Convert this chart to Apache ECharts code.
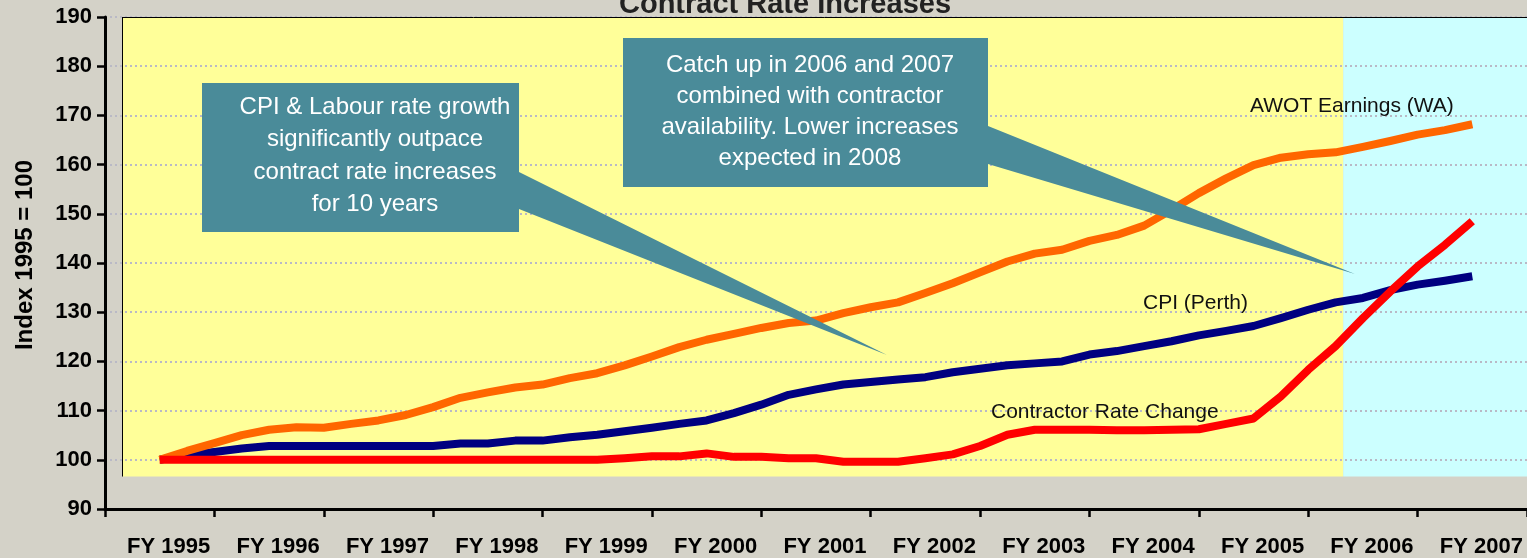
<!DOCTYPE html>
<html>
<head>
<meta charset="utf-8">
<script src="https://cdn.jsdelivr.net/npm/echarts@6/dist/echarts.min.js"></script>
<style>
  html, body { margin: 0; padding: 0; background: #d4d2c8; }
  #chart { width: 1527px; height: 558px; }
</style>
</head>
<body>
<div id="chart"></div>
<script>
// Financial years on the category axis
const years = ['FY 1995', 'FY 1996', 'FY 1997', 'FY 1998', 'FY 1999', 'FY 2000', 'FY 2001',
               'FY 2002', 'FY 2003', 'FY 2004', 'FY 2005', 'FY 2006', 'FY 2007'];

// Quarterly index values (1995 = 100), FY 1995 through FY 2007
const awot = [100, 101.8, 103.4, 105.0, 106.1, 106.6, 106.5, 107.3, 108.0, 109.1, 110.7, 112.6,
              113.7, 114.7, 115.3, 116.6, 117.6, 119.2, 121.0, 122.9, 124.4, 125.6, 126.8, 127.8,
              128.3, 129.8, 131.0, 132.0, 133.9, 135.9, 138.1, 140.3, 141.9, 142.7, 144.5, 145.7,
              147.6, 150.8, 154.2, 157.2, 159.9, 161.4, 162.1, 162.5, 163.6, 164.8, 166.1, 167.0, 168.2];
const cpi = [100, 101.0, 101.6, 102.3, 102.8, 102.8, 102.8, 102.8, 102.8, 102.8, 102.8, 103.3,
             103.3, 103.9, 103.9, 104.6, 105.1, 105.8, 106.5, 107.3, 108.0, 109.5, 111.2, 113.2,
             114.3, 115.3, 115.8, 116.3, 116.8, 117.8, 118.5, 119.2, 119.6, 120.0, 121.4, 122.1,
             123.1, 124.1, 125.3, 126.2, 127.2, 128.8, 130.5, 132.0, 132.9, 134.5, 135.6, 136.4, 137.3];
const contractor = [100, 100, 100, 100, 100, 100, 100, 100, 100, 100, 100, 100,
                    100, 100, 100, 100, 100.0, 100.3, 100.7, 100.7, 101.3, 100.6, 100.6, 100.3,
                    100.3, 99.6, 99.6, 99.6, 100.3, 101.1, 102.8, 105.1, 106.1, 106.1, 106.1, 106.0,
                    106.0, 106.1, 106.2, 107.3, 108.4, 112.9, 118.3, 123.1, 128.8, 134.2, 139.3, 143.7, 148.5];

// Value-axis range and the shaded history / forecast panels (in years from FY 1995)
const yMin = 90, yMax = 190, yStep = 10;
const shadeStart = -0.34, forecastStart = 10.82, shadeFloor = 96.6;

const FONT = 'Arial, "Liberation Sans", sans-serif';
const quarterly = vals => vals.map((v, i) => [i / 4, v]);

const chart = echarts.init(document.getElementById('chart'), null, { renderer: 'canvas' });

function lineSeries(name, vals, color, z) {
  return {
    name, type: 'line', xAxisIndex: 1, data: quarterly(vals),
    showSymbol: false, symbol: 'none', z,
    lineStyle: { color, width: 8, cap: 'butt', join: 'round' },
    animation: false, silent: true
  };
}

const callout1 = ['CPI & Labour rate growth', 'significantly outpace', 'contract rate increases', 'for 10 years'];
const callout2 = ['Catch up in 2006 and 2007', 'combined with contractor', 'availability. Lower increases', 'expected in 2008'];
const TEAL = '#4a8b99';

chart.setOption({
  backgroundColor: '#d4d2c8',
  animation: false,
  grid: { left: 105, top: 17, width: 1425, bottom: 48, containLabel: false },
  xAxis: [
    {
      type: 'category', data: years, boundaryGap: true, z: 6,
      axisLine: { onZero: false, lineStyle: { color: '#000', width: 3 } },
      axisTick: { show: true, length: 8, interval: 0, lineStyle: { color: '#000', width: 2.5 } },
      axisLabel: { interval: 0, color: '#000', fontFamily: FONT, fontWeight: 'bold', fontSize: 22,
                   margin: 27, padding: [0, 0, 0, 18] },
      splitLine: { show: false }
    },
    { type: 'value', min: -0.5, max: 12.5, show: false }
  ],
  yAxis: {
    type: 'value', min: yMin, max: yMax, interval: yStep, z: 5,
    name: 'Index 1995 = 100', nameLocation: 'middle', nameRotate: 90, nameGap: 68,
    nameTextStyle: { color: '#000', fontFamily: FONT, fontWeight: 'bold', fontSize: 24, padding: [0, 0, 0, 16] },
    axisLine: { show: true, onZero: false, lineStyle: { color: '#000', width: 3 } },
    axisTick: { show: true, length: 8, lineStyle: { color: '#000', width: 2.5 } },
    axisLabel: { color: '#000', fontFamily: FONT, fontWeight: 'bold', fontSize: 22, margin: 13,
                 padding: [4, 0, 0, 0] },
    splitLine: { show: true, showMinLine: false,
                 lineStyle: { color: '#b9b9c6', width: 2, type: [2, 3] } }
  },
  series: [
    {
      name: 'panels', type: 'line', xAxisIndex: 1, data: [], z: 1, silent: true,
      markArea: {
        silent: true,
        data: [
          [{ xAxis: shadeStart, yAxis: shadeFloor, itemStyle: { color: '#ffff99' } },
           { xAxis: forecastStart, yAxis: yMax }],
          [{ xAxis: forecastStart, yAxis: shadeFloor, itemStyle: { color: '#ccffff' } },
           { xAxis: 12.5, yAxis: yMax }]
        ]
      },
      markLine: {
        silent: true, symbol: 'none', label: { show: false },
        lineStyle: { color: '#000', width: 1, type: 'solid' },
        data: [
          [{ coord: [shadeStart, yMax] }, { coord: [12.5, yMax] }],
          [{ coord: [shadeStart, yMax] }, { coord: [shadeStart, shadeFloor] }]
        ]
      }
    },
    lineSeries('CPI (Perth)', cpi, '#000080', 6),
    lineSeries('AWOT Earnings (WA)', awot, '#ff6600', 7),
    lineSeries('Contractor Rate Change', contractor, '#ff0000', 8)
  ],
  graphic: [
    // chart title, partly above the top edge
    { type: 'text', z: 100, x: 785, y: 5,
      style: { text: 'Contract Rate Increases', fill: '#222', font: 'bold 29px ' + FONT,
               align: 'center', verticalAlign: 'middle' } },
    // series names
    { type: 'text', z: 100, x: 1250, y: 106,
      style: { text: 'AWOT Earnings (WA)', fill: '#111', font: '21px ' + FONT, align: 'left', verticalAlign: 'middle' } },
    { type: 'text', z: 100, x: 1143, y: 303,
      style: { text: 'CPI (Perth)', fill: '#111', font: '21px ' + FONT, align: 'left', verticalAlign: 'middle' } },
    { type: 'text', z: 100, x: 991, y: 412,
      style: { text: 'Contractor Rate Change', fill: '#111', font: '21px ' + FONT, align: 'left', verticalAlign: 'middle' } },
    // callout: ten years of lag
    { type: 'polygon', z: 90, silent: true,
      shape: { points: [[202, 83], [519, 83], [519, 172], [887, 355], [519, 209], [519, 232], [202, 232]] },
      style: { fill: TEAL } },
    { type: 'text', z: 100, x: 375, y: 156,
      style: { text: callout1.join('\n'), fill: '#fff', font: '24px ' + FONT, align: 'center',
               verticalAlign: 'middle', lineHeight: 32.5 } },
    // callout: catch-up period
    { type: 'polygon', z: 90, silent: true,
      shape: { points: [[623, 38], [988, 38], [988, 126], [1355, 274], [988, 164], [988, 187], [623, 187]] },
      style: { fill: TEAL } },
    { type: 'text', z: 100, x: 810, y: 112,
      style: { text: callout2.join('\n'), fill: '#fff', font: '24px ' + FONT, align: 'center',
               verticalAlign: 'middle', lineHeight: 31 } }
  ]
});
</script>
</body>
</html>
